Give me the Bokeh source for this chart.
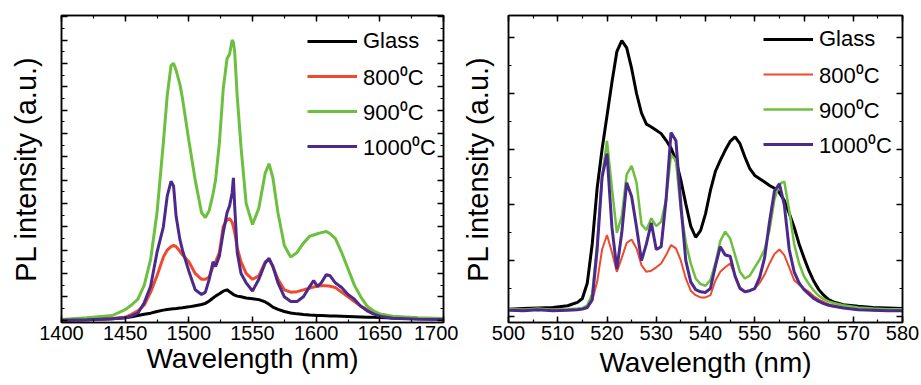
from bokeh.plotting import figure
from bokeh.models import (LinearAxis, SingleIntervalTicker, Range1d, Legend,
                          LegendItem, CustomJSTickFormatter)
from bokeh.layouts import row
from bokeh.embed import file_html
from bokeh.resources import INLINE

FONT = "Liberation Sans"
LABELS = ["Glass", "800\u2070C", "900\u2070C", "1000\u2070C"]
COLORS = ["#000000", "#ee4a2f", "#6cbf3f", "#4b2a8c"]

# ---------------- left panel (near-IR) ----------------
nir_wl = [1400, 1420, 1440, 1450, 1455, 1460, 1465, 1470, 1475, 1480, 1483, 1486, 1488,
          1490, 1493, 1495, 1500, 1505, 1510, 1513, 1516, 1519, 1521, 1524, 1527, 1530,
          1532, 1534, 1535, 1536, 1538, 1541, 1545, 1550, 1555, 1560, 1563, 1566, 1570,
          1575, 1580, 1585, 1590, 1595, 1598, 1601, 1604, 1608, 1611, 1615, 1620, 1625,
          1630, 1635, 1640, 1645, 1650, 1660, 1680, 1700]
nir_glass = [0.0, 0.02, 0.06, 0.1, 0.15, 0.2, 0.25, 0.3, 0.37, 0.43, 0.46, 0.48, 0.49,
             0.5, 0.52, 0.53, 0.57, 0.62, 0.67, 0.72, 0.82, 0.95, 1.03, 1.13, 1.24, 1.3,
             1.22, 1.14, 1.1, 1.07, 1.03, 1.0, 0.95, 0.92, 0.88, 0.78, 0.68, 0.56, 0.46,
             0.37, 0.31, 0.27, 0.24, 0.22, 0.21, 0.2, 0.2, 0.19, 0.18, 0.18, 0.17, 0.16,
             0.15, 0.14, 0.13, 0.12, 0.11, 0.09, 0.07, 0.05]
nir_800 = [0.0, 0.03, 0.07, 0.12, 0.25, 0.4, 0.65, 1.2, 1.9, 2.7, 3.0, 3.15, 3.2,
           3.15, 2.95, 2.8, 2.5, 2.0, 1.75, 1.75, 1.85, 2.3, 2.5, 2.9, 4.0, 4.3,
           4.35, 4.2, 4.0, 3.75, 3.1, 2.5, 2.0, 1.75, 1.9, 2.5, 2.6, 2.3, 1.75,
           1.3, 1.2, 1.22, 1.3, 1.38, 1.42, 1.45, 1.47, 1.47, 1.45, 1.4, 1.2, 1.0,
           0.8, 0.6, 0.45, 0.33, 0.25, 0.14, 0.07, 0.05]
nir_900 = [0.03, 0.1, 0.2, 0.45, 0.65, 0.9, 1.5, 2.6, 4.6, 7.6, 9.6, 10.9, 11.0,
           10.7, 10.1, 9.5, 7.7, 6.0, 4.6, 4.4, 4.7, 5.4, 6.0, 7.6, 9.9, 11.2,
           11.4, 12.0, 11.9, 11.5, 9.6, 7.4, 5.0, 4.1, 4.8, 6.3, 6.7, 6.1, 4.6,
           3.2, 2.7, 2.9, 3.3, 3.6, 3.65, 3.7, 3.75, 3.8, 3.7, 3.5, 2.9, 2.2,
           1.5, 1.0, 0.6, 0.4, 0.27, 0.17, 0.1, 0.07]
nir_1000 = [0.0, 0.02, 0.06, 0.1, 0.18, 0.3, 0.75, 1.45, 2.9, 4.0, 5.3, 5.95, 5.75,
            4.45, 3.45, 3.0, 2.1, 1.3, 1.1, 1.2, 1.75, 2.5, 2.3, 2.75, 3.75, 4.6,
            4.9, 5.45, 6.1, 4.9, 2.9, 2.0, 1.6, 1.25, 1.75, 2.45, 2.65, 2.3, 1.6,
            1.0, 0.8, 0.8, 1.0, 1.45, 1.7, 1.45, 1.6, 1.95, 1.9, 1.6, 1.4, 1.1,
            0.9, 0.6, 0.4, 0.27, 0.17, 0.08, 0.04, 0.03]
nir_ticks_x = 50

# ---------------- right panel (visible) ----------------
vis_wl = [500, 503, 506, 509, 512] + list(range(514, 567)) + [568, 571, 574, 577, 580]
vis_glass = [0.13, 0.14, 0.15, 0.16, 0.19,
             0.25, 0.32, 0.6, 1.3, 2.3, 3.0, 3.6, 4.2, 4.75, 4.95, 4.82, 4.45, 4.0,
             3.65, 3.45, 3.4, 3.34, 3.28, 3.16, 3.02, 2.8, 2.44, 2.02, 1.62, 1.42,
             1.54, 1.84, 2.26, 2.6, 2.8, 2.98, 3.14, 3.22, 3.1, 2.86, 2.65, 2.53,
             2.47, 2.41, 2.35, 2.3, 2.22, 2.08, 1.85, 1.6, 1.3, 1.05, 0.82, 0.63,
             0.48, 0.38, 0.3, 0.26,
             0.21, 0.18, 0.16, 0.15, 0.14]
vis_800 = [0.12, 0.13, 0.11, 0.13, 0.12,
           0.13, 0.14, 0.16, 0.28, 0.62, 1.2, 1.46, 1.15, 0.8, 1.05, 1.32, 1.38, 1.22,
           0.92, 0.8, 0.82, 0.88, 0.95, 1.1, 1.28, 1.22, 1.0, 0.68, 0.46, 0.38,
           0.34, 0.34, 0.38, 0.64, 0.8, 0.88, 0.95, 0.74, 0.52, 0.45, 0.47, 0.5,
           0.6, 0.75, 0.95, 1.12, 1.2, 1.1, 0.88, 0.65, 0.57, 0.5, 0.44, 0.36,
           0.3, 0.26, 0.22, 0.2,
           0.16, 0.12, 0.11, 0.1, 0.1]
vis_900 = [0.13, 0.12, 0.14, 0.12, 0.13,
           0.14, 0.15, 0.2, 0.4, 1.3, 2.5, 3.15, 2.3, 1.5, 1.8, 2.55, 2.7, 2.4,
           1.65, 1.55, 1.76, 1.62, 1.7, 2.1, 2.9, 2.8, 1.9, 1.33, 0.95, 0.68,
           0.58, 0.55, 0.65, 0.95, 1.35, 1.52, 1.4, 1.1, 0.8, 0.68, 0.73, 0.88,
           1.02, 1.2, 1.55, 2.1, 2.38, 2.42, 1.9, 1.3, 0.95, 0.72, 0.58, 0.46,
           0.37, 0.31, 0.27, 0.24,
           0.2, 0.16, 0.14, 0.13, 0.13]
vis_1000 = [0.11, 0.1, 0.12, 0.1, 0.11,
            0.12, 0.13, 0.16, 0.3, 1.2, 2.5, 2.92, 1.6, 0.85, 1.5, 2.4, 2.15, 1.6,
            1.0, 1.3, 1.68, 1.2, 1.25, 2.1, 3.3, 3.15, 2.0, 1.0, 0.62, 0.48,
            0.44, 0.43, 0.5, 0.9, 1.25, 1.1, 1.08, 0.72, 0.5, 0.44, 0.46, 0.5,
            0.7, 1.05, 1.7, 2.25, 2.38, 2.0, 1.2, 0.8, 0.6, 0.48, 0.4, 0.32,
            0.27, 0.23, 0.2, 0.18,
            0.15, 0.12, 0.11, 0.1, 0.1]
vis_ticks_x = 10


def blank():
    return CustomJSTickFormatter(code="return ''")


def style_axis(ax, labelled):
    ax.axis_line_color = "black"
    ax.axis_line_width = 1.5
    ax.major_tick_line_color = "black"
    ax.major_tick_line_width = 1.5
    ax.minor_tick_line_color = "black"
    ax.minor_tick_line_width = 1.2
    ax.major_tick_in = 6
    ax.major_tick_out = 0
    ax.minor_tick_in = 3
    ax.minor_tick_out = 0
    if not labelled:
        ax.formatter = blank()
        ax.major_label_text_font_size = "0px"
        ax.major_label_standoff = 0


def make_panel(width, left_b, right_b, xr, yr, xint, wl, series, widths,
               legend_xy, ylabel_standoff, xlabel_standoff):
    p = figure(width=width, height=384, output_backend="svg", toolbar_location=None,
               x_range=Range1d(*xr), y_range=Range1d(*yr),
               min_border_left=left_b, min_border_right=right_b,
               min_border_top=15, min_border_bottom=62)
    p.grid.visible = False
    p.outline_line_color = "black"
    p.outline_line_width = 1.5
    p.background_fill_color = "white"
    p.border_fill_color = "white"

    xt = SingleIntervalTicker(interval=xint, num_minor_ticks=2)
    yt = SingleIntervalTicker(interval=1, num_minor_ticks=2)
    p.xaxis.ticker = xt
    p.yaxis.ticker = yt
    for ax in p.xaxis:
        style_axis(ax, True)
        ax.major_label_text_font = FONT
        ax.major_label_text_font_size = "20px"
        ax.major_label_text_color = "black"
        ax.major_label_standoff = 3
        ax.axis_label = "Wavelength (nm)"
        ax.axis_label_text_font = FONT
        ax.axis_label_text_font_size = "28px"
        ax.axis_label_text_font_style = "normal"
        ax.axis_label_text_color = "black"
        ax.axis_label_standoff = xlabel_standoff
    for ax in p.yaxis:
        style_axis(ax, False)
        ax.axis_label = "PL intensity (a.u.)"
        ax.axis_label_text_font = FONT
        ax.axis_label_text_font_size = "29px"
        ax.axis_label_text_font_style = "normal"
        ax.axis_label_text_color = "black"
        ax.axis_label_standoff = ylabel_standoff

    top = LinearAxis(ticker=SingleIntervalTicker(interval=xint, num_minor_ticks=2))
    style_axis(top, False)
    p.add_layout(top, "above")
    right = LinearAxis(ticker=SingleIntervalTicker(interval=1, num_minor_ticks=2))
    style_axis(right, False)
    p.add_layout(right, "right")

    items = []
    for lab, col, ys, lw in zip(LABELS, COLORS, series, widths):
        r = p.line(wl, ys, line_color=col, line_width=lw)
        items.append(LegendItem(label=lab, renderers=[r]))

    leg = Legend(items=items, location=legend_xy)
    leg.label_text_font = FONT
    leg.label_text_font_size = "22px"
    leg.label_text_color = "black"
    leg.glyph_width = 50
    leg.glyph_height = 30
    leg.label_height = 30
    leg.spacing = 5
    leg.padding = 0
    leg.margin = 0
    leg.label_standoff = 6
    leg.border_line_alpha = 0
    leg.background_fill_alpha = 0
    p.add_layout(leg, "center")
    return p


p1 = make_panel(458, 61, 15, (1400, 1700), (-0.1, 13.05), nir_ticks_x, nir_wl,
                [nir_glass, nir_800, nir_900, nir_1000], [3, 3, 3, 3],
                (246, 161), 20, 0)
p2 = make_panel(462, 45, 18, (500, 580), (-0.11, 5.40), vis_ticks_x, vis_wl,
                [vis_glass, vis_800, vis_900, vis_1000], [3, 2, 2.5, 3],
                (255, 163), 15, 4)

layout = row(p1, p2)
open("out.html", "w").write(file_html(layout, INLINE))
